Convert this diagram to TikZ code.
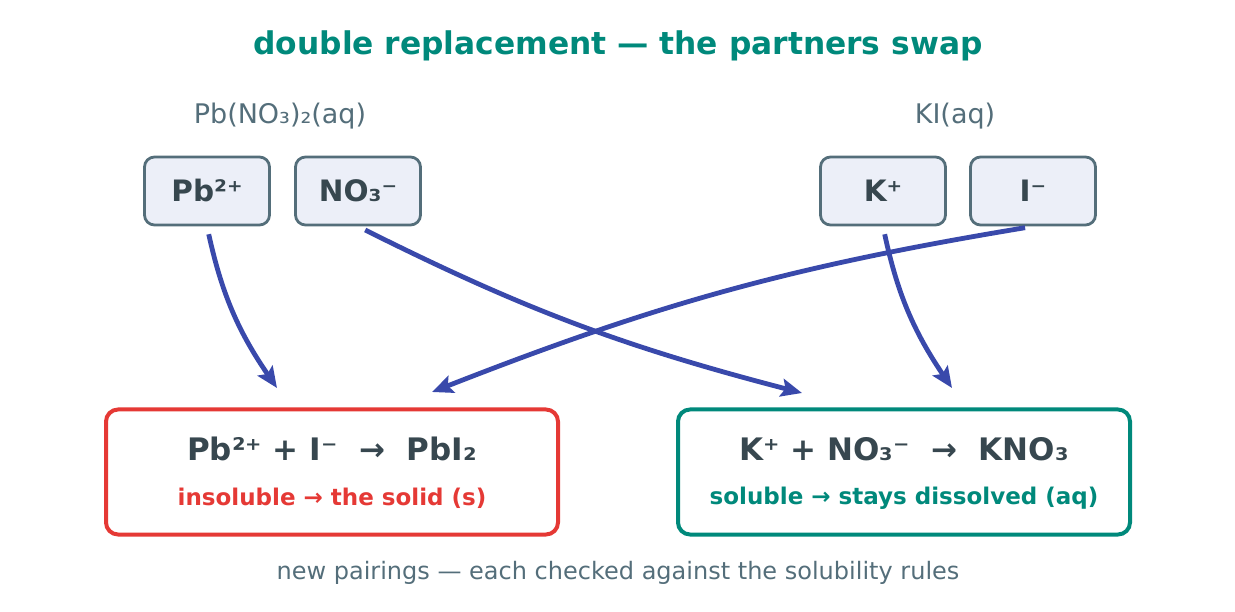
\documentclass[tikz,border=0pt]{standalone}
\usepackage{fontspec}
\setmainfont{DejaVu Sans}
\usepackage{tikz}
\usetikzlibrary{arrows.meta, positioning}
\definecolor{swapteal}{HTML}{00897B}
\definecolor{solidred}{HTML}{E53935}
\definecolor{inkdark}{HTML}{37474F}
\definecolor{slategrey}{HTML}{546E7A}
\definecolor{ionfill}{HTML}{ECEFF8}
\definecolor{swapblue}{HTML}{3949AB}

\begin{document}
\begin{tikzpicture}[x=1pt, y=1pt,
  ion/.style={draw=slategrey, line width=2.8pt, fill=ionfill, rounded corners=10pt,
              minimum width=125pt, minimum height=68pt, inner sep=0pt,
              text=inkdark, font=\fontsize{29.5}{34}\selectfont\bfseries},
  salt/.style={text=slategrey, font=\fontsize{27}{32}\selectfont},
  product/.style={draw, line width=4pt, rounded corners=12pt, fill=white,
                  minimum width=452pt, minimum height=125pt, inner sep=0pt},
  eqn/.style={text=inkdark, font=\fontsize{31}{36}\selectfont\bfseries},
  verdict/.style={font=\fontsize{23}{28}\selectfont\bfseries},
  swap/.style={-{Stealth[length=21pt, width=18pt, inset=4pt]}, line width=4.8pt,
               swapblue, shorten <=8pt},
]
\useasboundingbox (0,0) rectangle (1235,-612);

% title
\node[text=swapteal, font=\fontsize{31.3}{37}\selectfont\bfseries] (title) at (618,-46)
     {double replacement — the partners swap};

% reactants
\node[salt] (leadnitrate) at (280,-116) {Pb(NO₃)₂(aq)};
\node[salt] (potiodide) at (955,-116) {KI(aq)};
\node[ion] (pb) at (207,-191) {Pb²⁺};
\node[ion] (no3) at (358,-191) {NO₃⁻};
\node[ion] (k) at (883,-191) {K⁺};
\node[ion] (iod) at (1033,-191) {I⁻};

% products
\node[product, draw=solidred] (solid) at (332,-472) {};
\node[eqn] (solideq) at (332,-449) {Pb²⁺ + I⁻ \ → \ PbI₂};
\node[verdict, text=solidred] (solidnote) at (332,-498) {insoluble → the solid (s)};
\node[product, draw=swapteal] (dissolved) at (904,-472) {};
\node[eqn] (dissolvedeq) at (904,-449) {K⁺ + NO₃⁻ \ → \ KNO₃};
\node[verdict, text=swapteal] (dissolvednote) at (904,-498) {soluble → stays dissolved (aq)};

% arrow ends above the product boxes
\coordinate (pbend) at (277,-388);
\coordinate (no3end) at (802,-393);
\coordinate (kend) at (952,-388);
\coordinate (iodend) at (432,-392);

% partner swap
\draw[swap] (pb.south) to[bend right=11] (pbend);
\draw[swap] (no3.south) to[bend right=6] (no3end);
\draw[swap] (k.south) to[bend right=11] (kend);
\draw[swap] (iod.south) to[bend right=6] (iodend);

% footer
\node[text=slategrey, font=\fontsize{24}{29}\selectfont] (footer) at (618,-573)
     {new pairings — each checked against the solubility rules};
\end{tikzpicture}
\end{document}
